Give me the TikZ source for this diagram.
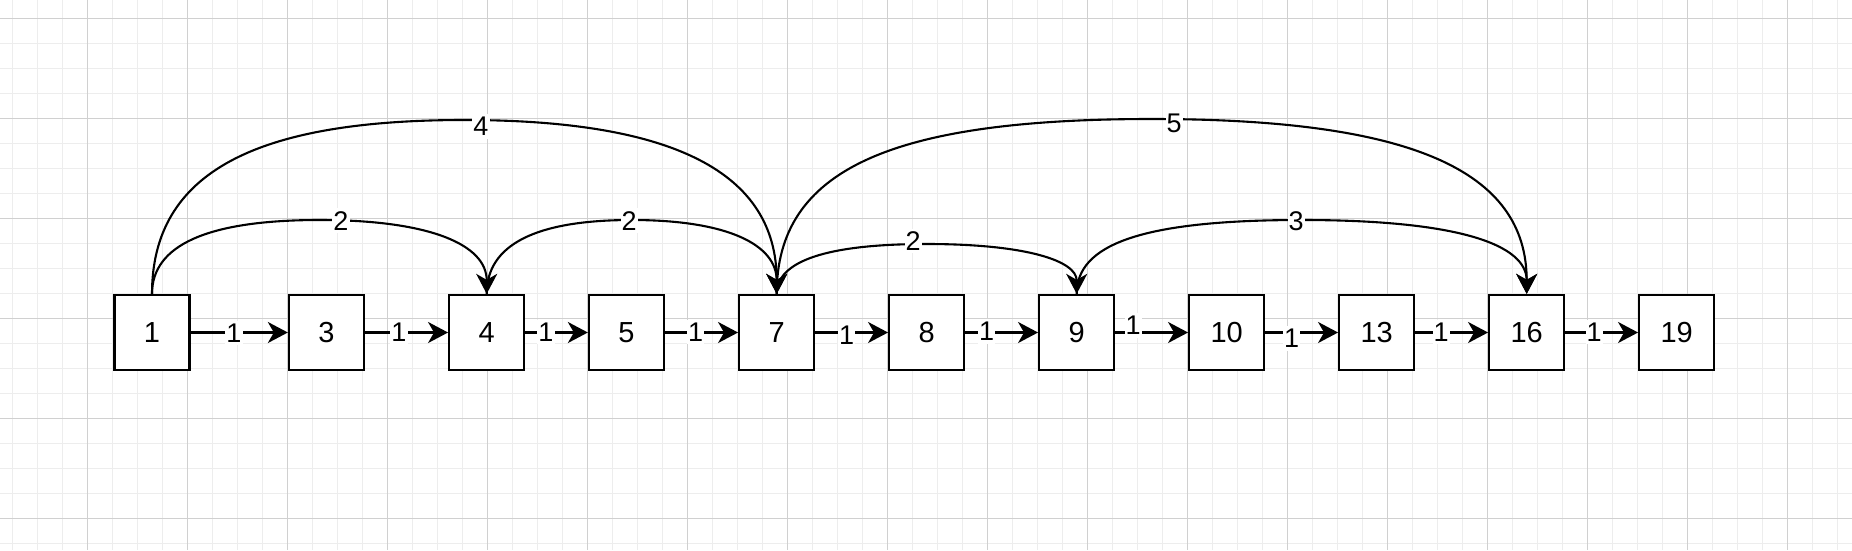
\documentclass[tikz,border=0pt]{standalone}
\usepackage{fontspec}
\setmainfont{Liberation Sans}
\usetikzlibrary{arrows.meta}
\definecolor{gridmajor}{RGB}{208,208,208}
\definecolor{gridminor}{RGB}{237,237,237}
\begin{document}
\begin{tikzpicture}[x=1pt,y=-1pt,
  box/.style={draw=black,line width=2.3pt,fill=white,minimum width=75pt,minimum height=75pt,inner sep=0pt,font=\fontsize{29}{34}\selectfont},
  edge/.style={line width=2.1pt,-{Stealth[length=20pt,width=21pt,inset=6pt]}},
  lbl/.style={fill=white,inner xsep=1pt,inner ysep=3pt,font=\fontsize{27}{32}\selectfont},
  gmin/.style={draw=gridminor,line width=1pt},
  gmaj/.style={draw=gridmajor,line width=1pt}]
\fill[white] (0,0) rectangle (1852,550);
\useasboundingbox (0,0) rectangle (1852,550);
% grid
\foreach \k in {0,...,73} \draw[gmin] ({12.3+25*\k},0) -- ({12.3+25*\k},550);
\foreach \k in {0,...,21} \draw[gmin] (0,{18.5+25*\k}) -- (1852,{18.5+25*\k});
\foreach \k in {0,...,17} \draw[gmaj] ({87.3+100*\k},0) -- ({87.3+100*\k},550);
\foreach \k in {0,...,5} \draw[gmaj] (0,{18.5+100*\k}) -- (1852,{18.5+100*\k});
% nodes
\node[box] (n1)  at (152,332.5)   {1};
\node[box] (n3)  at (326.5,332.5) {3};
\node[box] (n4)  at (486.7,332.5) {4};
\node[box] (n5)  at (626.5,332.5) {5};
\node[box] (n7)  at (776.7,332.5) {7};
\node[box] (n8)  at (926.7,332.5) {8};
\node[box] (n9)  at (1076.7,332.5) {9};
\node[box] (n10) at (1226.7,332.5) {10};
\node[box] (n13) at (1376.7,332.5) {13};
\node[box] (n16) at (1526.7,332.5) {16};
\node[box] (n19) at (1676.7,332.5) {19};
% straight edges
\draw[edge] (n1) -- (n3);
\draw[edge] (n3) -- (n4);
\draw[edge] (n4) -- (n5);
\draw[edge] (n5) -- (n7);
\draw[edge] (n7) -- (n8);
\draw[edge] (n8) -- (n9);
\draw[edge] (n9) -- (n10);
\draw[edge] (n10) -- (n13);
\draw[edge] (n13) -- (n16);
\draw[edge] (n16) -- (n19);
% curved edges
\draw[edge] (n1.north) .. controls (152,245) and (207.8,220) .. (319.35,220) .. controls (430.9,220) and (486.7,245) .. (n4.north);
\draw[edge] (n4.north) .. controls (486.7,245) and (535,220) .. (631.7,220) .. controls (728.4,220) and (776.7,245) .. (n7.north);
\draw[edge] (n1.north) .. controls (152,172) and (256.1,120) .. (464.35,120) .. controls (672.6,120) and (776.7,172) .. (n7.north);
\draw[edge] (n7.north) .. controls (776.7,261) and (826.7,244) .. (926.7,244) .. controls (1026.7,244) and (1076.7,261) .. (n9.north);
\draw[edge] (n7.north) .. controls (776.7,170) and (890,119) .. (1151.7,119) .. controls (1410,119) and (1526.7,170) .. (n16.north);
\draw[edge] (n9.north) .. controls (1076.7,245) and (1140,220) .. (1301.7,220) .. controls (1460,220) and (1526.7,245) .. (n16.north);
% labels
\node[lbl] (l13)   at (234,333)    {1};
\node[lbl] (l34)   at (399,332)    {1};
\node[lbl] (l45)   at (546,332)    {1};
\node[lbl] (l57)   at (695.7,332)  {1};
\node[lbl] (l78)   at (846.7,335.7) {1};
\node[lbl] (l89)   at (986.7,331.7) {1};
\node[lbl] (l910)  at (1133,325.7) {1};
\node[lbl] (l1013) at (1291.7,338.3) {1};
\node[lbl] (l1316) at (1441,332)   {1};
\node[lbl] (l1619) at (1594,332)   {1};
\node[lbl] (l14)   at (341,220.7)  {2};
\node[lbl] (l47)   at (629,220.7)  {2};
\node[lbl] (l17)   at (481,126.7)  {4};
\node[lbl] (l79)   at (913,241)    {2};
\node[lbl] (l716)  at (1174,123)   {5};
\node[lbl] (l916)  at (1296,220.7) {3};
\end{tikzpicture}
\end{document}
